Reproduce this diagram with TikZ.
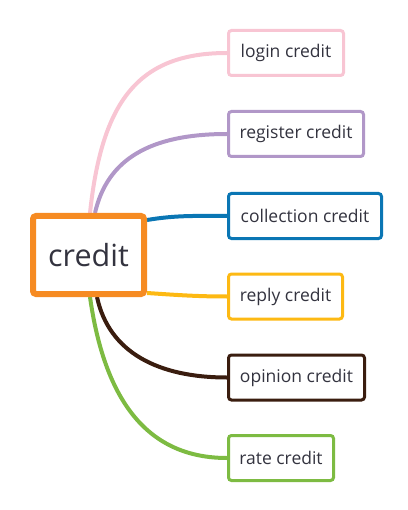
\documentclass[tikz,border=0pt]{standalone}
\usepackage{fontspec}
\setmainfont{Open Sans}
\usetikzlibrary{calc,backgrounds}
\definecolor{cpink}{HTML}{F8C5D3}
\definecolor{cpurple}{HTML}{B197C8}
\definecolor{cblue}{HTML}{0A76B4}
\definecolor{corange}{HTML}{F68B22}
\definecolor{cyellow}{HTML}{FDB913}
\definecolor{cbrown}{HTML}{3A1D0F}
\definecolor{cgreen}{HTML}{7DBB42}
\definecolor{ctext}{HTML}{33333F}
\tikzset{
  leaf/.style={draw, line width=3pt, rounded corners=3pt, fill=white, text=ctext,
    minimum height=45pt, inner sep=0pt, font=\fontsize{17.5}{20}\selectfont},
  root/.style={draw=corange, line width=6pt, rounded corners=3pt, fill=white, text=ctext,
    minimum width=111pt, minimum height=78pt, inner sep=0pt, font=\fontsize{30.5}{34}\selectfont},
  link/.style={line width=4pt}
}
\begin{document}
\begin{tikzpicture}[x=1pt,y=-1pt]
\useasboundingbox (0,0) rectangle (407,510);
\node[leaf, draw=cpink, minimum width=115pt] (login) at (286,53) {login credit};
\node[leaf, draw=cpurple, minimum width=135pt] (register) at (296,134) {register credit};
\node[leaf, draw=cblue, minimum width=153pt] (collection) at (305,216) {collection credit};
\node[leaf, draw=cyellow, minimum width=114pt] (reply) at (285.5,296.5) {reply credit};
\node[leaf, draw=cbrown, minimum width=136pt] (opinion) at (296.5,377.5) {opinion credit};
\node[leaf, draw=cgreen, minimum width=105pt] (rate) at (281,458) {rate credit};
\node[root] (credit) at (88.5,255) {credit};
\coordinate (sPink) at ($(credit.north west)+(60,0)$);
\coordinate (sPurple) at ($(credit.north west)+(65,0)$);
\coordinate (sBlue) at ($(credit.north east)+(0,7)$);
\coordinate (sYellow) at ($(credit.south east)+(0,-4)$);
\coordinate (sBrown) at ($(credit.south west)+(67,0)$);
\coordinate (sGreen) at ($(credit.south west)+(60,0)$);
\begin{scope}[on background layer]
\draw[link, draw=cpink] (sPink) .. controls +(12,-113) and +(-88,0) .. (login.west);
\draw[link, draw=cpurple] (sPurple) .. controls +(12,-53) and +(-78,0) .. (register.west);
\draw[link, draw=cblue] (sBlue) .. controls +(30,-5) and +(-30,0) .. (collection.west);
\draw[link, draw=cyellow] (sYellow) .. controls +(30,2) and +(-30,0) .. (reply.west);
\draw[link, draw=cbrown] (sBrown) .. controls +(12,56) and +(-68,0) .. (opinion.west);
\draw[link, draw=cgreen] (sGreen) .. controls +(15,106) and +(-78,0) .. (rate.west);
\end{scope}
\end{tikzpicture}
\end{document}
